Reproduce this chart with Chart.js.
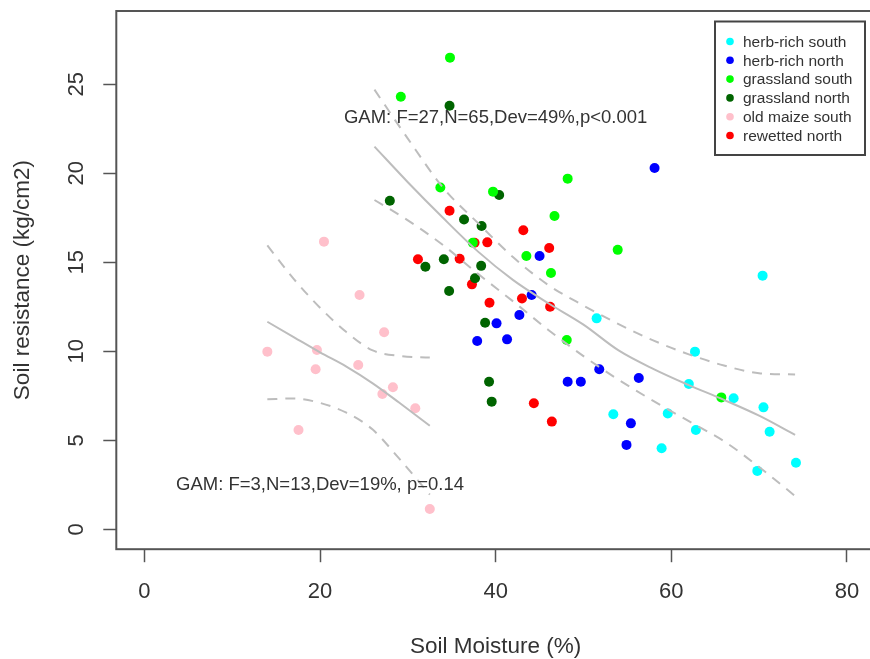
<!DOCTYPE html>
<html>
<head>
<meta charset="utf-8">
<script src="https://cdn.jsdelivr.net/npm/chart.js@4.4.1/dist/chart.umd.min.js"></script>
<style>
html, body { margin: 0; padding: 0; background: #fff; overflow: hidden; }
#wrap { width: 870px; height: 659px; overflow: hidden; }
</style>
</head>
<body>
<div id="wrap"><canvas id="chartSoil" width="880" height="659"></canvas></div>
<script>
// groups (legend order)
var groupLabels = ['herb-rich south', 'herb-rich north', 'grassland south', 'grassland north', 'old maize south', 'rewetted north']
var groupColors = ['#00ffff', '#0000ff', '#00ff00', '#006400', '#ffc0cb', '#ff0000']

// soil moisture (%) / soil resistance (kg/cm2) per group
var herbSouthX = [51.5, 53.4, 58.9, 59.6, 62.0, 62.7, 62.8, 67.1, 69.8, 70.4, 70.5, 71.2, 74.2]
var herbSouthY = [11.85, 6.46, 4.55, 6.51, 8.16, 9.98, 5.58, 7.36, 3.28, 14.25, 6.85, 5.48, 3.74]
var herbNorthX = [37.9, 40.1, 41.3, 42.7, 44.1, 45.0, 48.2, 49.7, 51.8, 54.9, 55.4, 56.3, 58.1]
var herbNorthY = [10.58, 11.57, 10.67, 12.04, 13.16, 15.35, 8.29, 8.29, 8.99, 4.74, 5.95, 8.5, 20.3]
var grassSouthX = [29.2, 33.7, 34.8, 37.4, 39.7, 43.5, 46.3, 46.7, 48.1, 48.2, 53.9, 65.7]
var grassSouthY = [24.3, 19.2, 26.5, 16.1, 18.97, 15.35, 14.4, 17.6, 10.63, 19.7, 15.7, 7.41]
var grassNorthX = [27.95, 32.0, 34.1, 34.7, 34.75, 36.4, 37.65, 38.35, 38.4, 38.8, 39.25, 39.55, 40.4]
var grassNorthY = [18.46, 14.75, 15.17, 13.39, 23.8, 17.4, 14.1, 14.8, 17.04, 11.6, 8.29, 7.17, 18.78]
var maizeSouthX = [14.0, 17.55, 19.5, 19.65, 20.45, 24.35, 24.5, 27.1, 27.3, 28.3, 30.85, 32.5]
var maizeSouthY = [9.98, 5.58, 8.99, 10.07, 16.16, 9.23, 13.16, 7.6, 11.07, 7.98, 6.8, 1.14]
var rewetNorthX = [31.15, 34.75, 35.9, 37.3, 37.6, 39.05, 39.3, 43.0, 43.15, 44.35, 46.1, 46.2, 46.4]
var rewetNorthY = [15.17, 17.9, 15.2, 13.76, 16.1, 16.12, 12.73, 12.97, 16.8, 7.08, 15.8, 12.5, 6.05]

// GAM fit for all north/south sites except old maize, with confidence band
var gamX = [26.2, 30, 34, 38, 42, 46, 50, 54, 58, 62, 66, 70, 74.1]
var gamFit = [21.5, 19.5, 17.5, 15.6, 14.0, 12.7, 11.5, 10.05, 9.0, 8.1, 7.27, 6.38, 5.3]
var gamUpper = [24.7, 21.95, 19.2, 17.2, 15.28, 13.72, 12.57, 11.53, 10.6, 9.83, 9.2, 8.77, 8.7]
var gamLower = [18.5, 17.36, 15.97, 14.35, 12.8, 11.2, 9.73, 8.4, 7.2, 6.07, 4.95, 3.5, 1.87]

// GAM fit for old maize south
var maizeGamX = [14, 17, 20, 23, 26, 29, 32.5]
var maizeGamFit = [11.66, 10.8, 9.94, 9.14, 8.2, 7.12, 5.82]
var maizeGamUpper = [15.95, 14.07, 12.45, 11.08, 10.05, 9.74, 9.65]
var maizeGamLower = [7.3, 7.35, 7.1, 6.55, 5.6, 3.98, 1.95]

var xTicks = [0, 20, 40, 60, 80]
var yTicks = [0, 5, 10, 15, 20, 25]

var gamNotes = [
    { text: 'GAM: F=27,N=65,Dev=49%,p<0.001', x: 40, y: 23.1 },
    { text: 'GAM: F=3,N=13,Dev=19%, p=0.14', x: 20, y: 2.5 }
]

var fontFamily = "'Liberation Sans', Arial, sans-serif"
var textColor = '#333333'
var lineGrey = '#bdbdbd'

function toPoints(xs, ys) {
    var pts = []
    for (var i = 0; i < xs.length; i++) {
        pts.push({ x: xs[i], y: ys[i] })
    }
    return pts
}

function gamLine(xs, ys, dashed) {
    return {
        type: 'line',
        data: toPoints(xs, ys),
        borderColor: lineGrey,
        borderWidth: 2,
        borderDash: dashed ? [10, 8] : [],
        pointRadius: 0,
        fill: false,
        cubicInterpolationMode: 'monotone',
        order: 0
    }
}

// keep the plot region where R put it, no extra room for edge labels
function noEdgePadding(scale) {
    scale.paddingTop = 0
    scale.paddingBottom = 0
    scale.paddingLeft = 0
    scale.paddingRight = 0
}

var groupXs = [herbSouthX, herbNorthX, grassSouthX, grassNorthX, maizeSouthX, rewetNorthX]
var groupYs = [herbSouthY, herbNorthY, grassSouthY, grassNorthY, maizeSouthY, rewetNorthY]

var datasets = []
for (var g = 0; g < groupLabels.length; g++) {
    datasets.push({
        label: groupLabels[g],
        data: toPoints(groupXs[g], groupYs[g]),
        backgroundColor: groupColors[g],
        borderWidth: 0,
        pointRadius: 5,
        pointHoverRadius: 5,
        order: 1
    })
}
datasets.push(gamLine(gamX, gamFit, false))
datasets.push(gamLine(gamX, gamUpper, true))
datasets.push(gamLine(gamX, gamLower, true))
datasets.push(gamLine(maizeGamX, maizeGamFit, false))
datasets.push(gamLine(maizeGamX, maizeGamUpper, true))
datasets.push(gamLine(maizeGamX, maizeGamLower, true))

// frame round the plot region
var boxPlugin = {
    id: 'rBox',
    afterDraw: function (chart) {
        var a = chart.chartArea
        var ctx = chart.ctx
        ctx.save()
        ctx.strokeStyle = '#555555'
        ctx.lineWidth = 2
        ctx.strokeRect(a.left, a.top, a.right - a.left, a.bottom - a.top)
        ctx.restore()
    }
}

// GAM statistics written into the plot
var notesPlugin = {
    id: 'gamNotes',
    afterDatasetsDraw: function (chart) {
        var ctx = chart.ctx
        var xs = chart.scales.x
        var ys = chart.scales.y
        ctx.save()
        ctx.font = '18.5px ' + fontFamily
        ctx.fillStyle = textColor
        ctx.textAlign = 'center'
        ctx.textBaseline = 'middle'
        gamNotes.forEach(function (n) {
            ctx.fillText(n.text, xs.getPixelForValue(n.x), ys.getPixelForValue(n.y))
        })
        ctx.restore()
    }
}

// R-style legend box at the top right
var legendPlugin = {
    id: 'rLegend',
    afterDraw: function (chart) {
        var ctx = chart.ctx
        var left = 715, top = 21.5, w = 150, h = 133.5
        ctx.save()
        ctx.fillStyle = '#ffffff'
        ctx.fillRect(left, top, w, h)
        ctx.strokeStyle = '#444444'
        ctx.lineWidth = 2
        ctx.strokeRect(left, top, w, h)
        ctx.font = '15.5px ' + fontFamily
        ctx.textBaseline = 'middle'
        ctx.textAlign = 'left'
        for (var i = 0; i < groupLabels.length; i++) {
            var yy = top + 21 + i * 18.8
            ctx.fillStyle = chart.data.datasets[i].backgroundColor
            ctx.beginPath()
            ctx.arc(left + 15, yy - 1, 3.8, 0, Math.PI * 2)
            ctx.fill()
            ctx.fillStyle = textColor
            ctx.fillText(chart.data.datasets[i].label, left + 28, yy)
        }
        ctx.restore()
    }
}

var ctx = document.getElementById('chartSoil').getContext('2d')
var chartSoil = new Chart(ctx, {
    type: 'scatter',
    data: { datasets: datasets },
    options: {
        responsive: false,
        animation: false,
        devicePixelRatio: 1,
        layout: { padding: { top: 11, right: 1.7, left: 0, bottom: 0 } },
        plugins: {
            legend: { display: false },
            tooltip: { enabled: false }
        },
        scales: {
            x: {
                type: 'linear',
                min: -3.2,
                max: 83.2,
                afterBuildTicks: function (scale) {
                    scale.ticks = xTicks.map(function (v) { return { value: v } })
                },
                afterFit: function (scale) {
                    scale.height = 109.8
                    noEdgePadding(scale)
                },
                border: { display: false },
                grid: { drawOnChartArea: false, tickLength: 13, tickColor: '#555555', tickWidth: 1.5 },
                ticks: { color: textColor, padding: 16.3, maxRotation: 0, font: { family: fontFamily, size: 22 } },
                title: {
                    display: true,
                    text: 'Soil Moisture (%)',
                    color: textColor,
                    padding: 0,
                    font: { family: fontFamily, size: 22.5, lineHeight: 1.1 }
                }
            },
            y: {
                type: 'linear',
                min: -1.12,
                max: 29.12,
                afterBuildTicks: function (scale) {
                    scale.ticks = yTicks.map(function (v) { return { value: v } })
                },
                afterFit: function (scale) {
                    scale.width = 116.3
                    noEdgePadding(scale)
                },
                border: { display: false },
                grid: { drawOnChartArea: false, tickLength: 13, tickColor: '#555555', tickWidth: 1.5 },
                ticks: {
                    color: textColor,
                    padding: 14.1,
                    minRotation: 90,
                    maxRotation: 90,
                    crossAlign: 'center',
                    font: { family: fontFamily, size: 22 }
                },
                title: {
                    display: true,
                    text: 'Soil resistance (kg/cm2)',
                    color: textColor,
                    padding: { top: 10.6, bottom: 0 },
                    font: { family: fontFamily, size: 22.5, lineHeight: 1.1 }
                }
            }
        }
    },
    plugins: [boxPlugin, notesPlugin, legendPlugin]
})
</script>
</body>
</html>
